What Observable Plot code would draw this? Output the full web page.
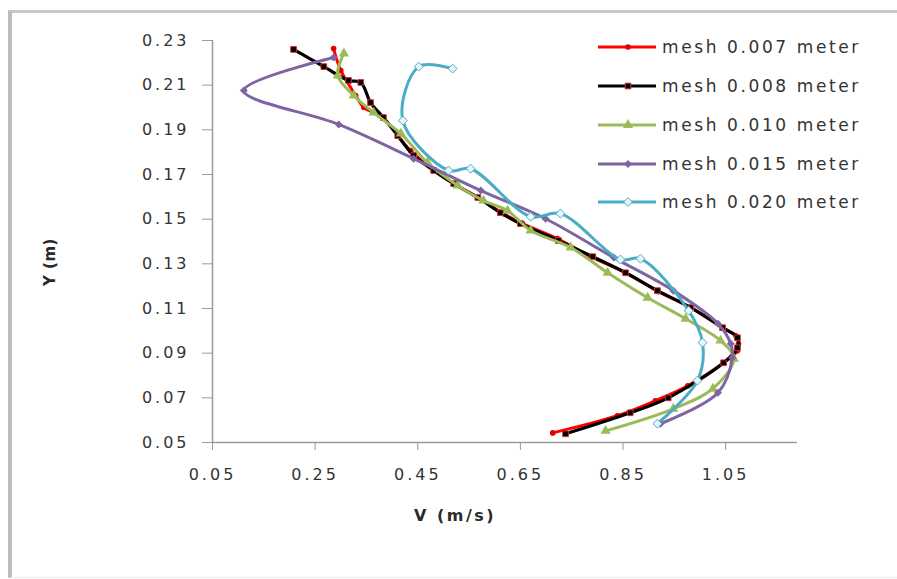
<!DOCTYPE html>
<html><head><meta charset="utf-8">
<script src="https://cdn.jsdelivr.net/npm/d3@7"></script>
<script src="https://cdn.jsdelivr.net/npm/@observablehq/plot@0.6"></script>
<style>
body{margin:0;background:#fff;}
#wrap{position:relative;width:897px;height:579px;overflow:hidden;font-family:"DejaVu Sans",sans-serif;}
#frame{position:absolute;left:8px;top:10px;width:900px;height:568px;border-top:3px solid #c8c8c8;border-left:4px solid #bdbdbd;border-bottom:1px solid #eeeeee;box-sizing:border-box;}
#chart{position:absolute;left:0;top:0;}
#chart svg text{font-family:"DejaVu Sans",sans-serif;font-size:16px;letter-spacing:3px;fill:#333;}
.title{position:absolute;font-weight:bold;color:#2a2a2a;white-space:nowrap;}
#xt{left:455px;top:515px;transform:translate(-50%,-50%);font-size:16px;letter-spacing:2.5px;}
#yt{left:50px;top:262px;transform:translate(-50%,-50%) rotate(-90deg);font-size:15px;letter-spacing:0.5px;}
#legend{position:absolute;left:596px;top:28px;}
.row{display:flex;align-items:center;height:38.75px;}
.row span{font-size:17px;letter-spacing:2.6px;color:#333;margin-left:4px;white-space:nowrap;}
</style></head>
<body>
<div id="wrap">
  <div id="frame"></div>
  <div id="chart"></div>
  <div class="title" id="xt">V (m/s)</div>
  <div class="title" id="yt">Y (m)</div>
  <div id="legend"></div>
</div>
<script>
// ---- data ----
const seriesNames = ["mesh 0.007 meter", "mesh 0.008 meter", "mesh 0.010 meter", "mesh 0.015 meter", "mesh 0.020 meter"];
const xTicks = [0.05, 0.25, 0.45, 0.65, 0.85, 1.05];
const yTicks = [0.05, 0.07, 0.09, 0.11, 0.13, 0.15, 0.17, 0.19, 0.21, 0.23];

const v007 = [0.286,0.300,0.329,0.345,0.382,0.411,0.436,0.481,0.520,0.567,0.617,0.654,0.722,0.787,0.855,0.919,0.982,1.044,1.070,1.075,1.073,1.046,0.976,0.913,0.839,0.713];
const y007 = [0.2264,0.2166,0.2054,0.2000,0.1955,0.1874,0.1807,0.1718,0.1659,0.1597,0.1525,0.1480,0.1413,0.1332,0.1260,0.1175,0.1104,0.1014,0.0978,0.0942,0.0911,0.0857,0.0754,0.0687,0.0620,0.0543];

const v008 = [0.208,0.267,0.315,0.339,0.358,0.383,0.411,0.442,0.481,0.520,0.567,0.611,0.650,0.724,0.791,0.855,0.917,0.982,1.044,1.073,1.073,1.046,0.938,0.864,0.738];
const y008 = [0.2260,0.2183,0.2121,0.2112,0.2022,0.1955,0.1874,0.1785,0.1718,0.1659,0.1597,0.1529,0.1480,0.1404,0.1332,0.1260,0.1180,0.1104,0.1014,0.0969,0.0924,0.0857,0.0700,0.0633,0.0539];

const v010 = [0.306,0.294,0.325,0.364,0.417,0.469,0.528,0.578,0.625,0.670,0.748,0.820,0.898,0.972,1.040,1.066,1.025,0.948,0.816];
const y010 = [0.2242,0.2143,0.2054,0.1977,0.1883,0.1753,0.1650,0.1583,0.1538,0.1449,0.1373,0.1260,0.1148,0.1054,0.0956,0.0875,0.0741,0.0651,0.0552];

const v015 = [0.286,0.111,0.296,0.442,0.573,0.699,0.832,0.948,1.035,1.060,1.063,1.035,0.923];
const y015 = [0.2224,0.2076,0.1924,0.1771,0.1628,0.1502,0.1328,0.1180,0.1032,0.0942,0.0880,0.0723,0.0584];

const v020 = [0.518,0.452,0.421,0.510,0.553,0.670,0.728,0.845,0.884,0.978,1.005,0.995,0.917];
const y020 = [0.2174,0.2183,0.1941,0.1718,0.1726,0.1511,0.1525,0.1319,0.1323,0.1090,0.0947,0.0777,0.0584];

// ---- styles ----
const diamond = d3.symbolDiamond2 || "diamond";
const styles = [
  {color: "#ff0000", symbol: "circle", r: 2.8, fill: "#e00000", mstroke: "none"},
  {color: "#000000", symbol: "square", r: 3.2, fill: "#000000", mstroke: "#d03030"},
  {color: "#9bbb59", symbol: "triangle", r: 3.8, fill: "#9bbb59", mstroke: "none"},
  {color: "#8064a2", symbol: diamond, r: 3.6, fill: "#8064a2", mstroke: "none"},
  {color: "#4bacc6", symbol: diamond, r: 4.0, fill: "#eaf6fa", mstroke: "#4bacc6"}
];
const vs = [v007, v008, v010, v015, v020];
const ys = [y007, y008, y010, y015, y020];
const tables = vs.map((v, i) => v.map((d, j) => ({series: seriesNames[i], v: d, y: ys[i][j]})));

const marks = [
  Plot.ruleY([0.05], {stroke: "#9a9a9a", strokeWidth: 1.5}),
  Plot.ruleX([0.05], {stroke: "#9a9a9a", strokeWidth: 1.5}),
  Plot.axisX({ticks: xTicks, tickFormat: d3.format(".2f"), tickSize: 8, tickPadding: 18, stroke: "#9a9a9a", label: null}),
  Plot.axisY({ticks: yTicks, tickFormat: d3.format(".2f"), tickSize: 10, tickPadding: 13, stroke: "#9a9a9a", label: null})
];
tables.forEach((t, i) => {
  const s = styles[i];
  marks.push(Plot.line(t, {x: "v", y: "y", stroke: s.color, strokeWidth: i === 1 ? 3.2 : 3, curve: "catmull-rom"}));
  marks.push(Plot.dot(t, {x: "v", y: "y", symbol: () => s.symbol, r: s.r, fill: s.fill, stroke: s.mstroke, strokeWidth: 1}));
});

const chart = Plot.plot({
  width: 897, height: 579,
  marginLeft: 212, marginRight: 100, marginTop: 40, marginBottom: 137,
  style: {background: "transparent", overflow: "visible"},
  x: {domain: [0.05, 1.19]},
  y: {domain: [0.05, 0.23]},
  symbol: {type: "identity"},
  marks
});
document.getElementById("chart").appendChild(chart);

// ---- legend ----
const legend = d3.select("#legend");
seriesNames.forEach((name, i) => {
  const s = styles[i];
  const row = legend.append("div").attr("class", "row");
  const svg = row.append("svg").attr("width", 62).attr("height", 20);
  svg.append("line").attr("x1", 2).attr("x2", 60).attr("y1", 10).attr("y2", 10)
    .attr("stroke", s.color).attr("stroke-width", 3);
  const sym = typeof s.symbol === "string"
    ? {circle: d3.symbolCircle, square: d3.symbolSquare, triangle: d3.symbolTriangle, diamond: d3.symbolDiamond}[s.symbol]
    : s.symbol;
  svg.append("path").attr("transform", "translate(32,10)")
    .attr("d", d3.symbol(sym, Math.PI * s.r * s.r)())
    .attr("fill", s.fill).attr("stroke", s.mstroke).attr("stroke-width", 1);
  row.append("span").text(name);
});
</script>
</body></html>
